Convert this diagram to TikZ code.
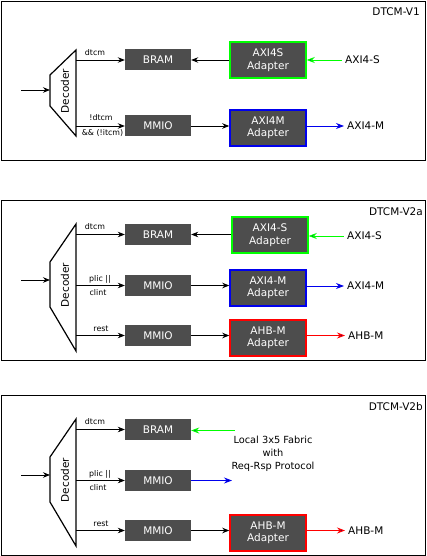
\documentclass[tikz,border=0pt]{standalone}
\usepackage{fontspec}
\setmainfont{DejaVu Sans}
\usetikzlibrary{arrows.meta}

\definecolor{boxgray}{HTML}{4D4D4D}
\definecolor{axigreen}{HTML}{00FF00}
\definecolor{axiblue}{HTML}{0000EE}
\definecolor{ahbred}{HTML}{FF0000}
\definecolor{tipnavy}{HTML}{000080}

\begin{document}
\begin{tikzpicture}[
        x=1pt, y=-1pt,
        every node/.style={
            inner sep=0pt,
            font=\fontsize{10.5}{12.5}\selectfont
        },
        block/.style={
            fill=boxgray,
            text=white,
            minimum width=66pt,
            minimum height=21pt
        },
        adapter/.style={
            block,
            draw=#1,
            line width=1.5pt,
            minimum width=76pt,
            minimum height=36pt,
            align=center
        },
        tag/.style={font=\fontsize{7.9}{9}\selectfont},
        port/.style={anchor=west, inner sep=3pt},
        version/.style={anchor=east},
        decoder/.style={draw, line width=1.2pt},
        frame/.style={draw, line width=0.9pt},
        line/.style={-{Stealth[length=7pt, width=5.5pt]}, line width=0.8pt},
        cline/.style={-{Stealth[length=8pt, width=6pt, fill=tipnavy]}, line width=0.9pt, draw=#1}
    ]

        \useasboundingbox (0,0) rectangle (426,556);

        % DTCM-V1
        \draw[frame] (1,1) rectangle (425,160);
        \node[version] (verA) at (420,12) {DTCM-V1};

        \draw[decoder] (50,75) -- (76,50) -- (76,136) -- (50,106) -- cycle;
        \node[rotate=90] (decA) at (65,91) {Decoder};
        \coordinate (inA) at (21,90);
        \coordinate (decinA) at (50,90);
        \coordinate (selbramA) at (76,60);
        \coordinate (selmmioA) at (76,126);

        \node[block] (bramA) at (158,60) {BRAM};
        \node[block] (mmioA) at (158,126) {MMIO};
        \node[adapter=axigreen] (axisA) at (268,60) {AXI4S\\Adapter};
        \node[adapter=axiblue] (aximA) at (268,128) {AXI4M\\Adapter};
        \node[port] (portsA) at (342,60) {AXI4-S};
        \node[port] (portmA) at (344,126) {AXI4-M};

        \node[tag] (dtcmA) at (95,53) {dtcm};
        \node[tag] (ndtcmA) at (101,118) {!dtcm};
        \node[tag] (nitcmA) at (102.5,133) {\&\& (!itcm)};

        \draw[line] (inA) -- (decinA);
        \draw[line] (selbramA) -- (bramA);
        \draw[line] (selmmioA) -- (mmioA);
        \draw[line] (axisA) -- (bramA);
        \draw[line] (mmioA) -- (aximA.west |- mmioA);
        \draw[cline=axigreen] (portsA) -- (axisA);
        \draw[cline=axiblue] (aximA.east |- portmA) -- (portmA);

        % DTCM-V2a
        \draw[frame] (1,200) rectangle (425,360);
        \node[version] (verB) at (423,212) {DTCM-V2a};

        \draw[decoder] (50,262) -- (76,224) -- (76,351) -- (50,307) -- cycle;
        \node[rotate=90] (decB) at (65,285) {Decoder};
        \coordinate (inB) at (21,280);
        \coordinate (decinB) at (50,280);
        \coordinate (selbramB) at (76,234.5);
        \coordinate (selmmioB) at (76,285.5);
        \coordinate (selrestB) at (76,335.5);

        \node[block] (bramB) at (158,234.5) {BRAM};
        \node[block] (mmioB) at (158,285.5) {MMIO};
        \node[block] (restB) at (158,335.5) {MMIO};
        \node[adapter=axigreen] (axisB) at (270,235) {AXI4-S\\Adapter};
        \node[adapter=axiblue] (aximB) at (268,288) {AXI4-M\\Adapter};
        \node[adapter=ahbred] (ahbB) at (268,338) {AHB-M\\Adapter};
        \node[port] (portsB) at (344,236) {AXI4-S};
        \node[port] (portmB) at (344,286) {AXI4-M};
        \node[port] (porthB) at (345,335.5) {AHB-M};

        \node[tag] (dtcmB) at (95,227) {dtcm};
        \node[tag] (plicB) at (100,279) {plic ||};
        \node[tag] (clintB) at (98,293) {clint};
        \node[tag] (restlB) at (101,329) {rest};

        \draw[line] (inB) -- (decinB);
        \draw[line] (selbramB) -- (bramB);
        \draw[line] (selmmioB) -- (mmioB);
        \draw[line] (selrestB) -- (restB);
        \draw[line] (axisB.west |- bramB) -- (bramB);
        \draw[line] (mmioB) -- (aximB.west |- mmioB);
        \draw[line] (restB) -- (ahbB.west |- restB);
        \draw[cline=axigreen] (portsB) -- (axisB.east |- portsB);
        \draw[cline=axiblue] (aximB.east |- portmB) -- (portmB);
        \draw[cline=ahbred] (ahbB.east |- porthB) -- (porthB);

        % DTCM-V2b
        \draw[frame] (1,395) rectangle (425,555);
        \node[version] (verC) at (423,407) {DTCM-V2b};

        \draw[decoder] (50,457) -- (76,419) -- (76,546) -- (50,502) -- cycle;
        \node[rotate=90] (decC) at (65,480) {Decoder};
        \coordinate (inC) at (21,475);
        \coordinate (decinC) at (50,475);
        \coordinate (selbramC) at (76,429.5);
        \coordinate (selmmioC) at (76,480.5);
        \coordinate (selrestC) at (76,530.5);

        \node[block] (bramC) at (158,429.5) {BRAM};
        \node[block] (mmioC) at (158,480.5) {MMIO};
        \node[block] (restC) at (158,530.5) {MMIO};
        \node[adapter=ahbred] (ahbC) at (268,533) {AHB-M\\Adapter};
        \node[port] (porthC) at (345,530.5) {AHB-M};
        \node[align=center, font=\fontsize{9.8}{13}\selectfont] (fabricC) at (273,454) {Local 3x5 Fabric\\with\\Req-Rsp Protocol};
        \coordinate (fabinC) at (235,430.5);
        \coordinate (faboutC) at (232,480.5);

        \node[tag] (dtcmC) at (95,422) {dtcm};
        \node[tag] (plicC) at (100,474) {plic ||};
        \node[tag] (clintC) at (98,488) {clint};
        \node[tag] (restlC) at (101,524) {rest};

        \draw[line] (inC) -- (decinC);
        \draw[line] (selbramC) -- (bramC);
        \draw[line] (selmmioC) -- (mmioC);
        \draw[line] (selrestC) -- (restC);
        \draw[line] (restC) -- (ahbC.west |- restC);
        \draw[cline=axigreen] (fabinC) -- (bramC.east |- fabinC);
        \draw[cline=axiblue] (mmioC) -- (faboutC);
        \draw[cline=ahbred] (ahbC.east |- porthC) -- (porthC);

\end{tikzpicture}
\end{document}
